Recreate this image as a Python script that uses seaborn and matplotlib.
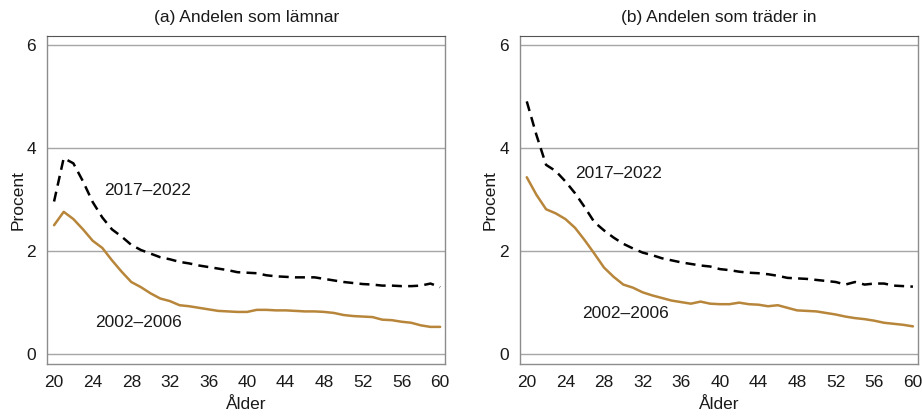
import numpy as np
import pandas as pd
import seaborn as sns
import matplotlib.pyplot as plt

# Ages on the x axis
ages = list(range(20, 61))

# (a) share leaving, percent
leave_2017 = [2.96, 3.80, 3.70, 3.35, 2.95, 2.65, 2.42, 2.28, 2.12, 2.02,
              1.95, 1.88, 1.84, 1.79, 1.76, 1.72, 1.69, 1.66, 1.63, 1.59,
              1.58, 1.57, 1.53, 1.51, 1.50, 1.49, 1.49, 1.49, 1.46, 1.43,
              1.40, 1.38, 1.36, 1.35, 1.33, 1.33, 1.32, 1.32, 1.33, 1.37, 1.30]
leave_2002 = [2.50, 2.76, 2.62, 2.42, 2.20, 2.06, 1.82, 1.60, 1.40, 1.30,
              1.18, 1.08, 1.03, 0.95, 0.93, 0.90, 0.87, 0.84, 0.83, 0.82,
              0.82, 0.86, 0.86, 0.85, 0.85, 0.84, 0.83, 0.83, 0.82, 0.80,
              0.76, 0.74, 0.73, 0.72, 0.67, 0.66, 0.63, 0.61, 0.56, 0.53, 0.53]

# (b) share entering, percent
enter_2017 = [4.90, 4.25, 3.67, 3.55, 3.35, 3.12, 2.85, 2.56, 2.40, 2.26,
              2.14, 2.05, 1.97, 1.92, 1.86, 1.82, 1.78, 1.75, 1.72, 1.70,
              1.65, 1.63, 1.60, 1.58, 1.57, 1.55, 1.52, 1.48, 1.47, 1.46,
              1.44, 1.42, 1.40, 1.35, 1.40, 1.35, 1.37, 1.37, 1.33, 1.32, 1.31]
enter_2002 = [3.43, 3.09, 2.81, 2.73, 2.62, 2.45, 2.21, 1.95, 1.68, 1.50,
              1.35, 1.29, 1.20, 1.14, 1.09, 1.04, 1.01, 0.98, 1.02, 0.98,
              0.97, 0.97, 1.00, 0.97, 0.96, 0.93, 0.95, 0.90, 0.85, 0.84,
              0.83, 0.80, 0.77, 0.73, 0.70, 0.68, 0.65, 0.61, 0.59, 0.57, 0.54]

titles = ["(a) Andelen som lämnar", "(b) Andelen som träder in"]
periods = ["2017–2022", "2002–2006"]
xticks = list(range(20, 61, 4))
yticks = [0, 2, 4, 6]

sns.set_style("white")
plt.rcParams['font.family'] = ['Liberation Sans', 'DejaVu Sans']
fs = 12.5

fig = plt.figure(figsize=(9.22, 4.17), dpi=100)
ax_a = fig.add_axes([0.0513, 0.127, 0.4313, 0.787])
ax_b = fig.add_axes([0.564, 0.127, 0.4314, 0.787])

panels = [(ax_a, leave_2017, leave_2002, [(25.2, 3.18), (24.3, 0.62)]),
          (ax_b, enter_2017, enter_2002, [(25.0, 3.50), (25.7, 0.78)])]

for i, (ax, new, old, label_pos) in enumerate(panels):
    df = pd.DataFrame({'Ålder': ages + ages,
                       'Procent': new + old,
                       'Period': [periods[0]] * len(ages) + [periods[1]] * len(ages)})
    for y in yticks:
        ax.axhline(y, color='#a6a6a6', lw=1.0, zorder=0)
    sns.lineplot(data=df, x='Ålder', y='Procent', hue='Period', style='Period',
                 palette={periods[0]: 'black', periods[1]: '#b8863b'},
                 dashes={periods[0]: (4, 2.5), periods[1]: ''},
                 linewidth=1.8, legend=False, ax=ax)
    for txt, (x, y) in zip(periods, label_pos):
        ax.text(x, y, txt, fontsize=fs, ha='left', va='center', color='#1a1a1a')
    ax.set_xlim(19.3, 60.5)
    ax.set_ylim(-0.19, 6.17)
    ax.set_xticks(xticks)
    ax.set_yticks(yticks)
    ax.tick_params(axis='both', direction='out', length=5, width=1,
                   color='#808080', labelsize=fs, labelcolor='#1a1a1a', pad=3)
    for side in ['left', 'bottom', 'right']:
        ax.spines[side].set_color('#8c8c8c')
        ax.spines[side].set_linewidth(1.0)
    ax.spines['top'].set_color('#555555')
    ax.set_xlabel('Ålder', fontsize=fs, color='#1a1a1a', labelpad=5)
    ax.set_ylabel('Procent', fontsize=fs, color='#1a1a1a', labelpad=1)
    ax.set_title(titles[i], fontsize=fs, color='#1a1a1a', pad=10)

fig.savefig("out.png", dpi=100)
